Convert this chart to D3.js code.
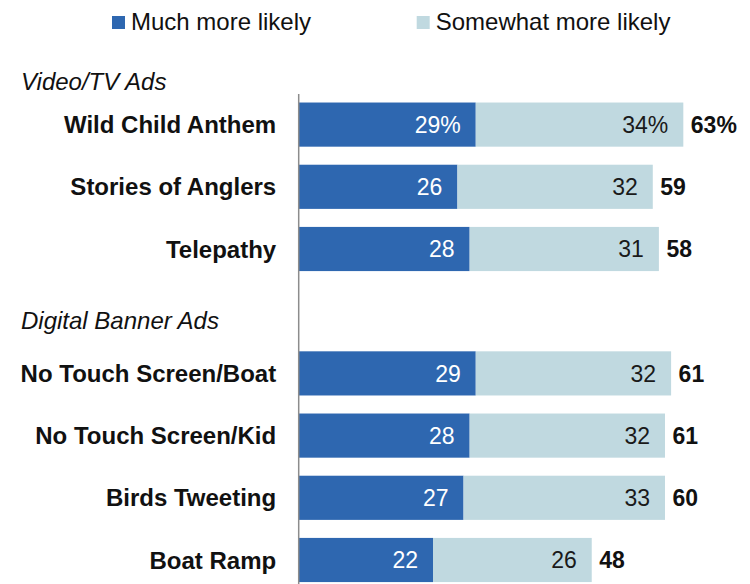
<!DOCTYPE html>
<html>
<head>
<meta charset="utf-8">
<script src="https://cdn.jsdelivr.net/npm/d3@7"></script>
<style>
  html, body { margin: 0; padding: 0; background: #fff; }
  svg { display: block; font-family: Arial, "Liberation Sans", sans-serif; }
</style>
</head>
<body>
<svg id="chart" width="750" height="584"></svg>
<script>
// Ad concepts, grouped; an empty slot separates the two groups
const rows = ["Wild Child Anthem", "Stories of Anglers", "Telepathy", "__gap__",
              "No Touch Screen/Boat", "No Touch Screen/Kid", "Birds Tweeting", "Boat Ramp"];
const groupHeaders = ["Video/TV Ads", "Digital Banner Ads"];
const concepts = ["Wild Child Anthem", "Stories of Anglers", "Telepathy",
                  "No Touch Screen/Boat", "No Touch Screen/Kid", "Birds Tweeting", "Boat Ramp"];
const muchMore     = [29, 26, 28, 29, 28, 27, 22];
const somewhatMore = [34, 32, 31, 32, 32, 33, 26];
const totals       = [63, 59, 58, 61, 61, 60, 48];
const seriesNames  = ["Much more likely", "Somewhat more likely"];
const colors       = ["#2e67b0", "#c0d9e0"];

const svg = d3.select("#chart");

const x = d3.scaleLinear().domain([0, 100]).range([298.7, 298.7 + 610.5]);
const y = d3.scaleBand().domain(rows).range([93.5, 93.5 + 8 * 62.2])
  .paddingInner(0.29).paddingOuter(0.145);

const data = concepts.map((c, i) => ({
  name: c, much: muchMore[i], some: somewhatMore[i], total: totals[i], first: i === 0
}));

// legend
const legend = svg.append("g");
const legendX = [112, 416.7];
seriesNames.forEach((s, i) => {
  legend.append("rect").attr("x", legendX[i]).attr("y", 16).attr("width", 13).attr("height", 13)
    .attr("fill", colors[i]);
  legend.append("text").attr("x", legendX[i] + 19).attr("y", 29.5)
    .attr("font-size", 24).attr("fill", "#111").text(s);
});

// group headers: the first sits just above the top bar, the second at the foot of the gap slot
const headerY = [y(rows[0]) - 12.5, y("__gap__") + y.bandwidth() - 4.5];
svg.append("g").selectAll("text").data(groupHeaders).join("text")
  .attr("x", 21)
  .attr("y", (d, i) => headerY[i])
  .attr("font-size", 24).attr("font-style", "italic").attr("fill", "#111")
  .text(d => d);

// bars
const bars = svg.append("g");
const row = bars.selectAll("g").data(data).join("g");

row.append("rect")
  .attr("x", x(0)).attr("y", d => y(d.name))
  .attr("width", d => x(d.much) - x(0)).attr("height", y.bandwidth())
  .attr("fill", colors[0]);
row.append("rect")
  .attr("x", d => x(d.much)).attr("y", d => y(d.name))
  .attr("width", d => x(d.much + d.some) - x(d.much)).attr("height", y.bandwidth())
  .attr("fill", colors[1]);

const mid = d => y(d.name) + y.bandwidth() / 2;
const pct = (v, d) => d.first ? v + "%" : String(v);

row.append("text")
  .attr("x", d => x(d.much) - 15).attr("y", mid).attr("dy", "0.36em")
  .attr("text-anchor", "end").attr("font-size", 23).attr("fill", "#fff")
  .text(d => pct(d.much, d));
row.append("text")
  .attr("x", d => x(d.much + d.some) - 15).attr("y", mid).attr("dy", "0.36em")
  .attr("text-anchor", "end").attr("font-size", 23).attr("fill", "#1a1a1a")
  .text(d => pct(d.some, d));
row.append("text")
  .attr("x", d => x(d.much + d.some) + 7.5).attr("y", mid).attr("dy", "0.36em")
  .attr("font-size", 23).attr("font-weight", "bold").attr("fill", "#111")
  .text(d => pct(d.total, d));

// category axis on the left
const axis = d3.axisLeft(y).tickSize(0).tickPadding(22)
  .tickFormat(d => d === "__gap__" ? "" : d);
const axisG = svg.append("g").attr("transform", `translate(${x(0) - 0.5},0)`).call(axis);
axisG.select(".domain").attr("stroke", "#8c8c8c").attr("stroke-width", 1.5);
axisG.selectAll("text")
  .attr("font-size", 24).attr("font-weight", "bold").attr("fill", "#111")
  .attr("font-family", "Arial, 'Liberation Sans', sans-serif")
  .attr("dy", "0.36em");
</script>
</body>
</html>
